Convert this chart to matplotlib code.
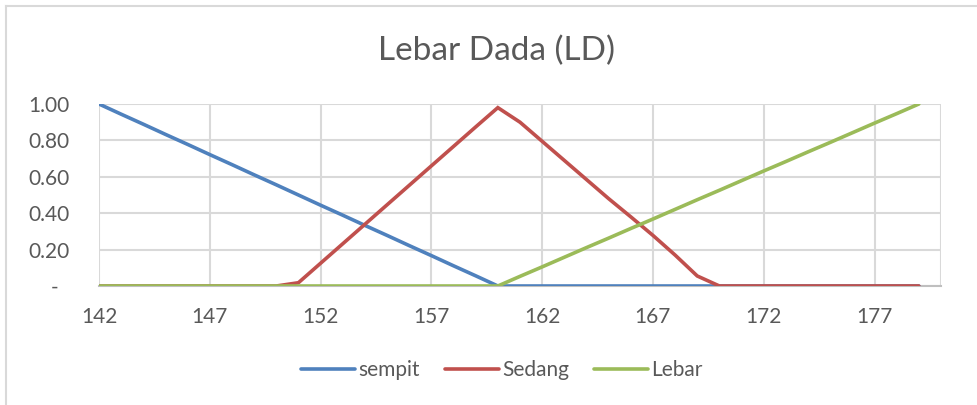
import matplotlib
matplotlib.use("Agg")
import matplotlib.pyplot as plt
from matplotlib.lines import Line2D

plt.rcParams['font.family'] = ['Lato', 'DejaVu Sans']

categories = list(range(142, 180))
sempit = [1.000, 0.944, 0.889, 0.833, 0.778, 0.722, 0.667, 0.611, 0.556, 0.500,
          0.444, 0.389, 0.333, 0.278, 0.222, 0.167, 0.111, 0.056, 0.000, 0.000,
          0.000, 0.000, 0.000, 0.000, 0.000, 0.000, 0.000, 0.000, 0.000, 0.000,
          0.000, 0.000, 0.000, 0.000, 0.000, 0.000, 0.000, 0.000]
sedang = [0.000, 0.000, 0.000, 0.000, 0.000, 0.000, 0.000, 0.000, 0.000, 0.018,
          0.125, 0.232, 0.339, 0.446, 0.553, 0.660, 0.767, 0.874, 0.980, 0.900,
          0.795, 0.690, 0.585, 0.480, 0.380, 0.278, 0.170, 0.055, 0.000, 0.000,
          0.000, 0.000, 0.000, 0.000, 0.000, 0.000, 0.000, 0.000]
lebar = [0.000, 0.000, 0.000, 0.000, 0.000, 0.000, 0.000, 0.000, 0.000, 0.000,
         0.000, 0.000, 0.000, 0.000, 0.000, 0.000, 0.000, 0.000, 0.000, 0.053,
         0.105, 0.158, 0.211, 0.263, 0.316, 0.368, 0.421, 0.474, 0.526, 0.579,
         0.632, 0.684, 0.737, 0.789, 0.842, 0.895, 0.947, 1.000]
series_names = ['sempit', 'Sedang', 'Lebar']
x_tick_labels = ['142', '147', '152', '157', '162', '167', '172', '177']
y_ticks = [0.0, 0.2, 0.4, 0.6, 0.8, 1.0]
y_tick_labels = ['-  ', '0.20', '0.40', '0.60', '0.80', '1.00']

colors = ['#4F81BD', '#C0504D', '#9BBB59']
text_color = '#595959'
grid_color = '#D9D9D9'

fig = plt.figure(figsize=(9.77, 4.05), dpi=100)
ax = fig.add_axes([99/977, 1-286/405, (941-99)/977, (286-104)/405])

for vals, c, name in zip([sempit, sedang, lebar], colors, series_names):
    ax.plot(categories, vals, color=c, lw=2.6, solid_capstyle='round',
            solid_joinstyle='miter', label=name, zorder=3)

ax.set_xlim(142, 180)
ax.set_ylim(0, 1.0)
ax.set_xticks([int(t) for t in x_tick_labels] + [180])
ax.set_xticklabels(x_tick_labels + [''])
ax.set_yticks(y_ticks)
ax.set_yticklabels(y_tick_labels)
ax.grid(True, color=grid_color, lw=1.5, zorder=0)
ax.tick_params(axis='both', length=0, colors=text_color, labelsize=15)
ax.tick_params(axis='x', pad=15)
ax.tick_params(axis='y', pad=21)
for s in ['top', 'right', 'left']:
    ax.spines[s].set_visible(False)
ax.spines['bottom'].set_color('#BFBFBF')
ax.spines['bottom'].set_linewidth(1.5)
ax.spines['bottom'].set_zorder(2)

fig.text(497/977, 1-51/405, 'Lebar Dada (LD)', ha='center', va='center',
         fontsize=24, color=text_color)

handles = [Line2D([0], [0], color=c, lw=2.6, solid_capstyle='round') for c in colors]
leg = fig.legend(handles, series_names, loc='center', bbox_to_anchor=(502/977, 1-370/405),
                 ncol=3, frameon=False, fontsize=15, handlelength=2.6,
                 handletextpad=0.15, columnspacing=1.2)
for t in leg.get_texts():
    t.set_color(text_color)

# chart border
fig.add_artist(Line2D([6/977, 1], [1-6/405, 1-6/405], color=grid_color, lw=1.5,
                      transform=fig.transFigure))
fig.add_artist(Line2D([6/977, 6/977], [0, 1-6/405], color=grid_color, lw=1.5,
                      transform=fig.transFigure))

fig.savefig('out.png', dpi=100)
